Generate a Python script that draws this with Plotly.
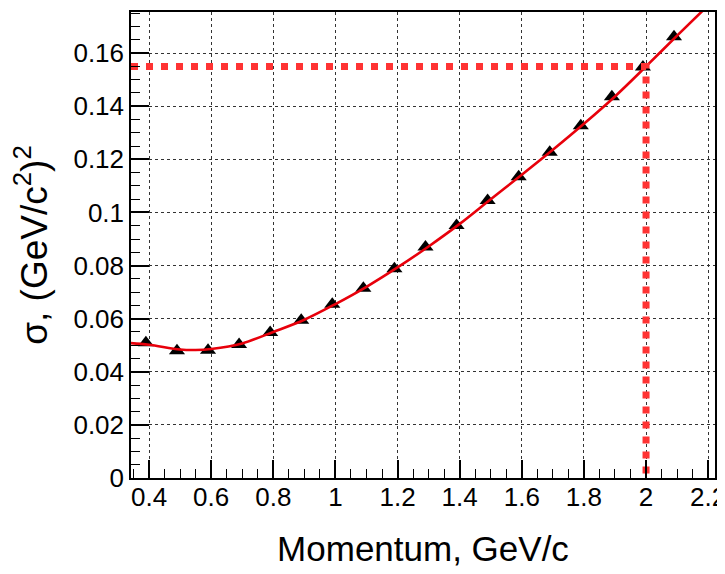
import plotly.graph_objects as go

# measured points (momentum, sigma)
momentum = [0.39, 0.49, 0.59, 0.69, 0.79, 0.89, 0.99, 1.09, 1.19, 1.29,
            1.39, 1.49, 1.59, 1.69, 1.79, 1.89, 1.99, 2.09]
sigma = [0.0509, 0.0479, 0.0481, 0.0503, 0.0548, 0.0594, 0.0654, 0.0715, 0.0788, 0.0870,
         0.0951, 0.1045, 0.1135, 0.1227, 0.1327, 0.1436, 0.1548, 0.1662]

# fit curve
fit_x = [0.342, 0.4, 0.5, 0.55, 0.6, 0.7, 0.8, 0.9, 1.0, 1.1, 1.2, 1.3, 1.4,
         1.5, 1.6, 1.7, 1.8, 1.9, 2.0, 2.1, 2.2]
fit_y = [0.0508, 0.0502, 0.0484, 0.0482, 0.0486, 0.0507, 0.0550, 0.0596, 0.0655,
         0.0720, 0.0793, 0.0872, 0.0957, 0.1050, 0.1142, 0.1236, 0.1334, 0.1437,
         0.1550, 0.1666, 0.178]

# cut lines
cut_x_left = 0.342
cut_momentum = 2.0
cut_sigma = 0.155

x_ticks = [0.4, 0.6, 0.8, 1.0, 1.2, 1.4, 1.6, 1.8, 2.0, 2.2]
x_ticktext = ["0.4", "0.6", "0.8", "1", "1.2", "1.4", "1.6", "1.8", "2", "2.2"]
y_ticks = [0, 0.02, 0.04, 0.06, 0.08, 0.10, 0.12, 0.14, 0.16]
y_ticktext = ["0", "0.02", "0.04", "0.06", "0.08", "0.1", "0.12", "0.14", "0.16"]

FONT = "Liberation Sans, Arial, sans-serif"

fig = go.Figure()
fig.add_trace(go.Scatter(x=momentum, y=sigma, mode="markers",
                         marker=dict(symbol="triangle-up", size=14, color="black"),
                         showlegend=False, cliponaxis=False))
fig.add_trace(go.Scatter(x=fit_x, y=fit_y, mode="lines", line_shape="spline",
                         line=dict(color="#e8000b", width=2.6), showlegend=False))
fig.add_trace(go.Scatter(x=[cut_x_left, cut_momentum, cut_momentum],
                         y=[cut_sigma, cut_sigma, 0], mode="lines",
                         line=dict(color="#ff3333", width=7, dash="7px,8px"),
                         showlegend=False))

axis_common = dict(
    showline=True, linecolor="black", linewidth=1.5, mirror=True,
    ticks="inside", ticklen=18, tickwidth=1.5, tickcolor="black",
    showgrid=True, gridcolor="#333333", griddash="dot", gridwidth=1.2,
    zeroline=False, automargin=False, ticklabeloverflow="allow",
    tickfont=dict(family=FONT, size=26, color="black"),
)

fig.update_xaxes(**axis_common, range=[0.342, 2.222], tickvals=x_ticks, ticktext=x_ticktext,
                 ticklabelstandoff=-5,
                 minor=dict(dtick=0.05, tick0=0.4, ticks="inside", ticklen=9,
                            tickwidth=1.2, tickcolor="black", showgrid=False),
                 title=dict(text="Momentum, GeV/c", font=dict(family=FONT, size=35, color="black"),
                            standoff=26))
fig.update_yaxes(**axis_common, range=[0, 0.1755], tickvals=y_ticks, ticktext=y_ticktext,
                 minor=dict(dtick=0.005, tick0=0, ticks="inside", ticklen=9,
                            tickwidth=1.2, tickcolor="black", showgrid=False),
                 title=dict(text="σ, (GeV/c<sup>2</sup>)<sup>2</sup>",
                            font=dict(family=FONT, size=37, color="black"), standoff=16))

# page body adds an 8px offset; margins compensate so the frame sits at x 131-715, y 12-478
fig.update_layout(width=725, height=574, margin=dict(l=123, r=18, t=4, b=104),
                  plot_bgcolor="white", paper_bgcolor="white")

fig.write_html("out.html")
